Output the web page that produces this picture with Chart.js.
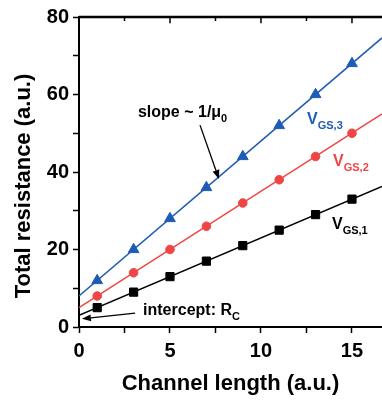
<!DOCTYPE html>
<html>
<head>
<meta charset="utf-8">
<script src="https://cdn.jsdelivr.net/npm/chart.js@4"></script>
</head>
<body style="margin:0; background:#fff">
<canvas id="chart" width="382" height="401"></canvas>
<script>
// measured points
const channelLength = [1, 3, 5, 7, 9, 11, 13, 15];
const rVgs1 = [5, 9, 13, 17, 21, 25, 29, 33];
const rVgs2 = [8, 14, 20, 26, 32, 38, 44, 50];
const rVgs3 = [12, 20, 28, 36, 44, 52, 60, 68];

// fitted lines (read at x = 0 and at the right edge)
const fitX = [0, 16.65];
const fitVgs1 = [3, 36.3];
const fitVgs2 = [5, 55];
const fitVgs3 = [8, 74.6];

const xTicks = [0, 2.5, 5, 7.5, 10, 12.5, 15];
const yTicks = [0, 10, 20, 30, 40, 50, 60, 70, 80];

const X_MAX = 16.65;
const Y_MAX = 80;

const BLUE = '#1f5cb4';
const RED = '#f04545';
const BLACK = '#000000';
const FONT = '"Liberation Sans", Arial, sans-serif';

function pts(xs, ys) {
    return xs.map((x, i) => ({ x: x, y: ys[i] }));
}

// top frame of the box, and its inward tick marks
const topFrame = [{ x: 0, y: Y_MAX }, { x: X_MAX, y: Y_MAX }];
const topTicks = [];
xTicks.filter(v => v > 0).forEach(v => {
    const len = v % 5 === 0 ? 1.6 : 1.0;
    topTicks.push({ x: v, y: Y_MAX }, { x: v, y: Y_MAX - len }, { x: v, y: null });
});

// text labels placed in data units
const notes = [
    { x: 12.53, y: 52.4, main: 'V', sub: 'GS,3', color: BLUE },
    { x: 13.96, y: 41.5, main: 'V', sub: 'GS,2', color: RED },
    { x: 13.9, y: 25.3, main: 'V', sub: 'GS,1', color: BLACK },
    { x: 3.24, y: 54.2, main: 'slope ~ 1/\u03bc', sub: '0', color: BLACK },
    { x: 3.52, y: 3.1, main: 'intercept: R', sub: 'C', color: BLACK }
];
const arrows = [
    { from: [6.65, 52.1], to: [7.69, 38.2] },
    { from: [3.08, 3.6], to: [0.16, 2.1] }
];

const annotations = {
    id: 'annotations',
    afterDraw(chart) {
        const c = chart.ctx;
        const xs = chart.scales.x;
        const ys = chart.scales.y;
        c.save();
        c.textBaseline = 'alphabetic';
        c.textAlign = 'left';
        notes.forEach(l => {
            const px = xs.getPixelForValue(l.x);
            const py = ys.getPixelForValue(l.y);
            c.fillStyle = l.color;
            c.font = 'bold 16px ' + FONT;
            c.fillText(l.main, px, py);
            const w = c.measureText(l.main).width;
            c.font = 'bold 11px ' + FONT;
            c.fillText(l.sub, px + w, py + 5);
        });
        c.strokeStyle = '#000';
        c.fillStyle = '#000';
        c.lineWidth = 1.3;
        arrows.forEach(a => {
            const x1 = xs.getPixelForValue(a.from[0]);
            const y1 = ys.getPixelForValue(a.from[1]);
            const x2 = xs.getPixelForValue(a.to[0]);
            const y2 = ys.getPixelForValue(a.to[1]);
            const ang = Math.atan2(y2 - y1, x2 - x1);
            const hl = 9, hw = 3.5;
            const bx = x2 - hl * Math.cos(ang);
            const by = y2 - hl * Math.sin(ang);
            c.beginPath();
            c.moveTo(x1, y1);
            c.lineTo(bx, by);
            c.stroke();
            c.beginPath();
            c.moveTo(x2, y2);
            c.lineTo(bx + hw * Math.sin(ang), by - hw * Math.cos(ang));
            c.lineTo(bx - hw * Math.sin(ang), by + hw * Math.cos(ang));
            c.closePath();
            c.fill();
        });

        // y axis title
        c.fillStyle = '#000';
        c.font = 'bold 22px ' + FONT;
        c.textAlign = 'center';
        c.textBaseline = 'middle';
        c.translate(24, 186);
        c.rotate(-Math.PI / 2);
        c.fillText('Total resistance (a.u.)', 0, 0);
        c.restore();
    }
};

const tickFont = { family: FONT, size: 20, weight: 'bold' };

new Chart(document.getElementById('chart'), {
    type: 'scatter',
    data: {
        datasets: [
            { data: pts(fitX, fitVgs1), showLine: true, borderColor: BLACK, borderWidth: 1.5, pointRadius: 0 },
            { data: pts(fitX, fitVgs2), showLine: true, borderColor: RED, borderWidth: 1.5, pointRadius: 0 },
            { data: pts(fitX, fitVgs3), showLine: true, borderColor: BLUE, borderWidth: 1.5, pointRadius: 0 },
            {
                label: 'VGS,1', data: pts(channelLength, rVgs1), showLine: false,
                pointStyle: 'rect', pointRadius: 5.8, backgroundColor: BLACK, borderColor: BLACK, borderWidth: 1
            },
            {
                label: 'VGS,2', data: pts(channelLength, rVgs2), showLine: false,
                pointStyle: 'circle', pointRadius: 4.3, backgroundColor: RED, borderColor: RED, borderWidth: 1
            },
            {
                label: 'VGS,3', data: pts(channelLength, rVgs3), showLine: false,
                pointStyle: 'triangle', pointRadius: 6.2, backgroundColor: BLUE, borderColor: BLUE, borderWidth: 1
            },
            {
                data: topFrame, showLine: true, borderColor: BLACK, borderWidth: 2.5,
                pointRadius: 0, clip: 4
            },
            {
                data: topTicks, showLine: true, spanGaps: false, borderColor: BLACK, borderWidth: 1.5,
                pointRadius: 0, clip: 4
            }
        ]
    },
    options: {
        responsive: false,
        animation: false,
        layout: {
            autoPadding: false,
            padding: { top: 17, right: 0, left: 0, bottom: 0 }
        },
        plugins: {
            legend: { display: false },
            tooltip: { enabled: false }
        },
        scales: {
            x: {
                type: 'linear',
                min: 0,
                max: X_MAX,
                afterFit: s => { s.height = 74; },
                afterBuildTicks: s => { s.ticks = xTicks.map(v => ({ value: v })); },
                grid: { display: true, drawOnChartArea: false, drawTicks: true, tickLength: 6, tickWidth: 1.5, color: '#000' },
                border: { display: true, color: '#000', width: 2 },
                ticks: {
                    color: '#000',
                    padding: 6,
                    maxRotation: 0,
                    font: tickFont,
                    callback: v => (v % 5 === 0 ? String(v) : '')
                },
                title: {
                    display: true,
                    text: 'Channel length (a.u.)',
                    color: '#000',
                    font: { family: FONT, size: 22, weight: 'bold' },
                    padding: { top: 0, bottom: 4 }
                }
            },
            y: {
                type: 'linear',
                min: 0,
                max: Y_MAX,
                afterFit: s => { s.width = 79; },
                afterBuildTicks: s => { s.ticks = yTicks.map(v => ({ value: v })); },
                grid: { display: true, drawOnChartArea: false, drawTicks: true, tickLength: 6, tickWidth: 1.5, color: '#000' },
                border: { display: true, color: '#000', width: 2 },
                ticks: {
                    color: '#000',
                    padding: 4,
                    font: tickFont,
                    callback: v => (v % 20 === 0 ? String(v) : '')
                }
            }
        }
    },
    plugins: [annotations]
});
</script>
</body>
</html>
